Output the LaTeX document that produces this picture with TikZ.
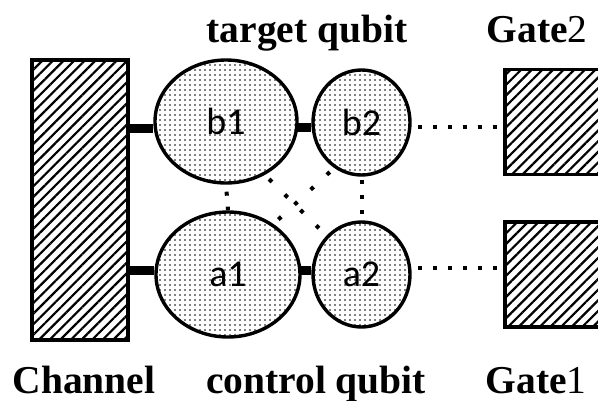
\documentclass[tikz,border=0pt]{standalone}
\usepackage{fontspec}
\setmainfont{Liberation Serif}
\newfontfamily\lblfont{Carlito}
\newfontfamily\digfont{Liberation Serif}
\usetikzlibrary{shapes.geometric,patterns.meta,backgrounds}
\tikzset{
  qubit/.style={ellipse, draw=black, line width=3.4pt, inner sep=0pt,
    preaction={fill=white},
    pattern={Dots[distance=5pt, radius=0.85pt]}, pattern color=black,
    font=\lblfont\fontsize{38}{40}\selectfont},
  hatchbox/.style={rectangle, draw=black, line width=3.8pt, inner sep=0pt,
    preaction={fill=white},
    pattern={Lines[angle=45, distance=7.5pt, line width=2.2pt]}},
  bar/.style={line width=9pt},
  dotline/.style={line width=4pt, dash pattern=on 4pt off 11pt},
  diagdot/.style={line width=4pt, dash pattern=on 4pt off 18pt},
  lab/.style={font=\bfseries\fontsize{39.5}{42}\selectfont, anchor=base, inner sep=0pt}
}
\begin{document}
\begin{tikzpicture}[x=1pt, y=-1pt]
\useasboundingbox (0,0) rectangle (598,400);
\clip (0,0) rectangle (598,400);
% boxes
\node[hatchbox, minimum width=96pt, minimum height=280pt] (chan) at (80,200) {};
\node[hatchbox, minimum width=120pt, minimum height=105pt] (g2) at (565,122) {};
\node[hatchbox, minimum width=120pt, minimum height=105pt] (g1) at (565,274.5) {};
% qubits
\node[qubit, minimum width=142pt, minimum height=123pt] (b1) at (226,121.5) {b1};
\node[qubit, minimum width=144pt, minimum height=125pt] (a1) at (228,274.5) {a1};
\node[qubit, minimum width=97pt, minimum height=105pt] (b2) at (361.5,122.5) {b2};
\node[qubit, minimum width=97pt, minimum height=105pt] (a2) at (361.5,274.5) {a2};
% helper coordinates
\coordinate (cb1) at ([yshift=-6.5pt]b1.west);
\coordinate (ca1) at ([yshift=4.5pt]a1.west);
\coordinate (cb2) at ([yshift=-4.5pt]b2.west);
\coordinate (ca2) at ([yshift=4.5pt]a2.west);
\coordinate (db2) at ([yshift=-4.5pt]b2.east);
\coordinate (da2) at ([yshift=6.5pt]a2.east);
\begin{scope}[on background layer]
\draw[bar] (cb1) -- (cb1 -| chan.east);
\draw[bar] (ca1) -- (ca1 -| chan.east);
\draw[bar] (cb2) -- ([xshift=-8pt]cb2 -| b1.east);
\draw[bar] (ca2) -- ([xshift=-8pt]ca2 -| a1.east);
\end{scope}
% dotted links
\draw[dotline, shorten <=6pt] (db2) -- (db2 -| g2.west);
\draw[dotline, shorten <=6pt] (da2) -- (da2 -| g1.west);
\draw[dotline, dash phase=-7pt] (b1.south) -- (a1.north);
\draw[dotline, dash phase=-3pt] (b2.south) -- (a2.north);
\draw[diagdot, shorten <=6pt] (b1.-54) -- (a2.132);
\draw[diagdot, shorten <=6pt] (b2.-121) -- (a1.48);
% labels
\node[lab] (tq) at (307,42) {target qubit};
\node[lab] (gt2) at (537,42) {Gate{\mdseries\digfont 2}};
\node[lab] (ch) at (84,393) {Channel};
\node[lab] (cq) at (316,393) {control qubit};
\node[lab] (gt1) at (536,393) {Gate{\mdseries\digfont 1}};
\end{tikzpicture}
\end{document}
